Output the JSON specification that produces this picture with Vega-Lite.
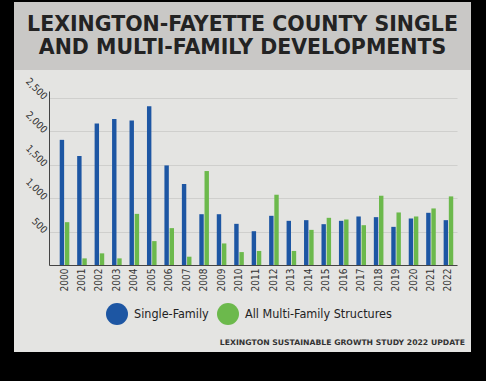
{
  "$schema": "https://vega.github.io/schema/vega-lite/v6.json",
  "background": "black",
  "padding": {"left": 14, "top": 2, "right": 15, "bottom": 29},
  "spacing": 0,
  "config": {"view": {"stroke": null}},
  "datasets": {
    "titles": [
      {"line": 1, "text": "LEXINGTON-FAYETTE COUNTY SINGLE"},
      {"line": 2, "text": "AND MULTI-FAMILY DEVELOPMENTS"}
    ],
    "units": [
      {"year": "2000", "type": "Single-Family", "value": 1870},
      {"year": "2000", "type": "All Multi-Family Structures", "value": 640},
      {"year": "2001", "type": "Single-Family", "value": 1627},
      {"year": "2001", "type": "All Multi-Family Structures", "value": 99},
      {"year": "2002", "type": "Single-Family", "value": 2113},
      {"year": "2002", "type": "All Multi-Family Structures", "value": 174},
      {"year": "2003", "type": "Single-Family", "value": 2182},
      {"year": "2003", "type": "All Multi-Family Structures", "value": 99},
      {"year": "2004", "type": "Single-Family", "value": 2158},
      {"year": "2004", "type": "All Multi-Family Structures", "value": 764},
      {"year": "2005", "type": "Single-Family", "value": 2371},
      {"year": "2005", "type": "All Multi-Family Structures", "value": 357},
      {"year": "2006", "type": "Single-Family", "value": 1488},
      {"year": "2006", "type": "All Multi-Family Structures", "value": 551},
      {"year": "2007", "type": "Single-Family", "value": 1210},
      {"year": "2007", "type": "All Multi-Family Structures", "value": 124},
      {"year": "2008", "type": "Single-Family", "value": 759},
      {"year": "2008", "type": "All Multi-Family Structures", "value": 1404},
      {"year": "2009", "type": "Single-Family", "value": 759},
      {"year": "2009", "type": "All Multi-Family Structures", "value": 322},
      {"year": "2010", "type": "Single-Family", "value": 615},
      {"year": "2010", "type": "All Multi-Family Structures", "value": 193},
      {"year": "2011", "type": "Single-Family", "value": 505},
      {"year": "2011", "type": "All Multi-Family Structures", "value": 210},
      {"year": "2012", "type": "Single-Family", "value": 735},
      {"year": "2012", "type": "All Multi-Family Structures", "value": 1050},
      {"year": "2013", "type": "Single-Family", "value": 660},
      {"year": "2013", "type": "All Multi-Family Structures", "value": 210},
      {"year": "2014", "type": "Single-Family", "value": 670},
      {"year": "2014", "type": "All Multi-Family Structures", "value": 525},
      {"year": "2015", "type": "Single-Family", "value": 610},
      {"year": "2015", "type": "All Multi-Family Structures", "value": 705},
      {"year": "2016", "type": "Single-Family", "value": 660},
      {"year": "2016", "type": "All Multi-Family Structures", "value": 680},
      {"year": "2017", "type": "Single-Family", "value": 725},
      {"year": "2017", "type": "All Multi-Family Structures", "value": 595},
      {"year": "2018", "type": "Single-Family", "value": 715},
      {"year": "2018", "type": "All Multi-Family Structures", "value": 1035},
      {"year": "2019", "type": "Single-Family", "value": 570},
      {"year": "2019", "type": "All Multi-Family Structures", "value": 785},
      {"year": "2020", "type": "Single-Family", "value": 695},
      {"year": "2020", "type": "All Multi-Family Structures", "value": 725},
      {"year": "2021", "type": "Single-Family", "value": 780},
      {"year": "2021", "type": "All Multi-Family Structures", "value": 845},
      {"year": "2022", "type": "Single-Family", "value": 670},
      {"year": "2022", "type": "All Multi-Family Structures", "value": 1025}
    ]
  },
  "vconcat": [
    {
      "width": 457,
      "height": 68,
      "view": {"fill": "#c9c8c6", "stroke": null},
      "data": {"name": "titles"},
      "mark": {"type": "text", "font": "DejaVu Sans", "fontWeight": "bold", "fontSize": 20.5, "color": "#232323", "baseline": "alphabetic", "align": "center"},
      "encoding": {
        "y": {"field": "line", "type": "ordinal", "axis": null, "scale": {"type": "point", "range": [29, 52], "padding": 0}},
        "text": {"field": "text"}
      }
    },
    {
      "width": 457,
      "height": 282,
      "view": {"fill": "#e4e4e2", "stroke": null},
      "data": {"name": "units"},
      "title": {"text": "LEXINGTON SUSTAINABLE GROWTH STUDY 2022 UPDATE", "orient": "bottom", "anchor": "end", "offset": -13, "dx": -6, "fontSize": 7.7, "font": "DejaVu Sans", "fontWeight": "bold", "color": "#333333"},
      "mark": {"type": "bar"},
      "encoding": {
        "x": {
          "field": "year", "type": "ordinal",
          "scale": {"range": [35, 443], "paddingInner": 0.45, "paddingOuter": 0.415, "align": 0.74},
          "axis": {"title": null, "orient": "bottom", "offset": -87, "labelAngle": -90, "labelAlign": "right", "labelBaseline": "middle", "labelPadding": 3, "ticks": false, "domainColor": "#444444", "labelFont": "DejaVu Sans Condensed", "labelFontSize": 10, "labelColor": "#333333"}
        },
        "xOffset": {"field": "type", "type": "nominal", "sort": ["Single-Family", "All Multi-Family Structures"], "scale": {"paddingInner": 0.15}},
        "y": {
          "field": "value", "type": "quantitative",
          "scale": {"domain": [0, 2600], "range": [195, 21], "nice": false},
          "axis": {"title": null, "orient": "left", "offset": -35, "values": [0, 500, 1000, 1500, 2000, 2500], "format": ",d", "labelExpr": "datum.value === 0 ? '' : datum.label", "labelAngle": 45, "labelAlign": "right", "labelBaseline": "middle", "labelPadding": 4, "ticks": false, "domainColor": "#444444", "gridColor": "#cfcfcd", "labelFont": "DejaVu Sans Condensed", "labelFontSize": 10, "labelColor": "#333333"}
        },
        "color": {
          "field": "type", "type": "nominal",
          "sort": ["Single-Family", "All Multi-Family Structures"],
          "scale": {"domain": ["Single-Family", "All Multi-Family Structures"], "range": ["#1d56a3", "#6cb94c"]},
          "legend": {"title": null, "orient": "none", "legendX": 92, "legendY": 301, "direction": "horizontal", "symbolType": "circle", "symbolSize": 484, "symbolStrokeWidth": 0, "symbolOpacity": 1, "labelFont": "DejaVu Sans Condensed", "labelFontSize": 12.5, "labelLimit": 300, "labelColor": "#222222", "columnPadding": 8, "labelOffset": 6, "padding": 0}
        }
      }
    }
  ]
}
